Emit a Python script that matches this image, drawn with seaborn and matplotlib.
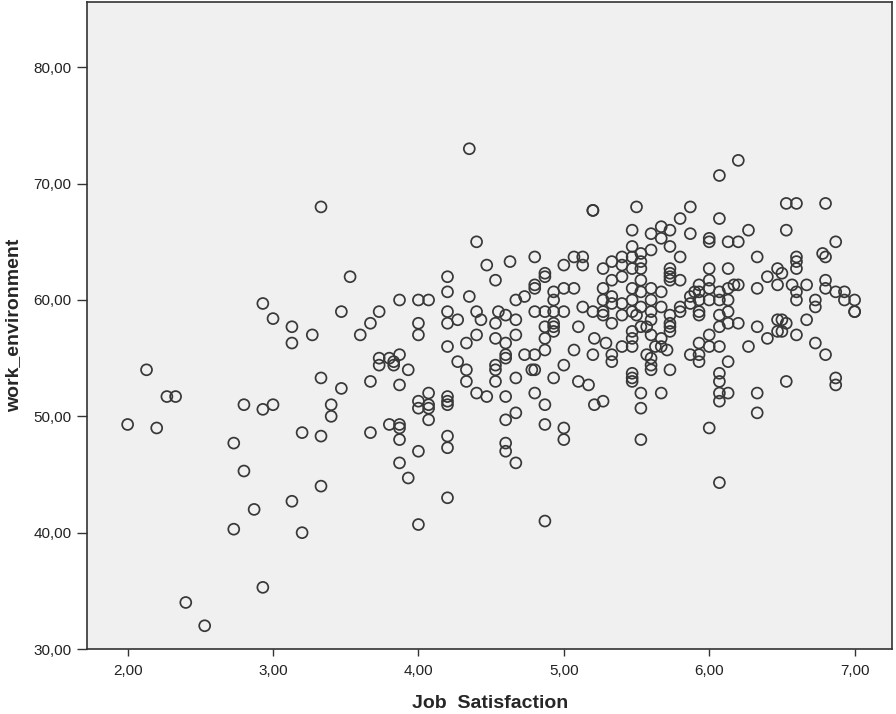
import matplotlib
matplotlib.use("Agg")
import matplotlib.pyplot as plt
import seaborn as sns
import pandas as pd
from matplotlib.ticker import FuncFormatter, FixedLocator

job_satisfaction = [
    2.00, 2.13, 2.20, 2.27, 2.33, 2.40, 2.53, 2.73, 2.73, 2.80, 2.80, 2.87, 2.93, 2.93, 2.93,
    3.00, 3.00, 3.13, 3.13, 3.13, 3.20, 3.20, 3.27, 3.33, 3.33, 3.33, 3.33, 3.40, 3.40, 3.47,
    3.47, 3.53, 3.60, 3.67, 3.67, 3.67, 3.73, 3.73, 3.73, 3.80, 3.80, 3.83, 3.83, 3.87, 3.87,
    3.87, 3.87, 3.87, 3.87, 3.87, 3.93, 3.93, 4.00, 4.00, 4.00, 4.00, 4.00, 4.00, 4.00, 4.07,
    4.07, 4.07, 4.07, 4.07, 4.20, 4.20, 4.20, 4.20, 4.20, 4.20, 4.20, 4.20, 4.20, 4.20, 4.20,
    4.27, 4.27, 4.33, 4.33, 4.33, 4.35, 4.35, 4.40, 4.40, 4.40, 4.40, 4.43, 4.47, 4.47, 4.53,
    4.53, 4.53, 4.53, 4.53, 4.53, 4.55, 4.60, 4.60, 4.60, 4.60, 4.60, 4.60, 4.60, 4.60, 4.63,
    4.67, 4.67, 4.67, 4.67, 4.67, 4.67, 4.73, 4.73, 4.80, 4.80, 4.80, 4.80, 4.80, 4.78, 4.80,
    4.80, 4.87, 4.87, 4.87, 4.87, 4.87, 4.87, 4.87, 4.87, 4.87, 4.93, 4.93, 4.93, 4.93, 4.93,
    4.93, 4.93, 5.00, 5.00, 5.00, 5.00, 5.00, 5.00, 5.07, 5.07, 5.07, 5.10, 5.10, 5.13, 5.13,
    5.13, 5.17, 5.20, 5.20, 5.20, 5.20, 5.21, 5.21, 5.27, 5.27, 5.27, 5.27, 5.27, 5.27, 5.29,
    5.33, 5.33, 5.33, 5.33, 5.33, 5.33, 5.40, 5.40, 5.40, 5.40, 5.40, 5.47, 5.47, 5.47, 5.47,
    5.47, 5.47, 5.47, 5.47, 5.47, 5.47, 5.47, 5.47, 5.50, 5.50, 5.53, 5.53, 5.53, 5.53, 5.53,
    5.53, 5.53, 5.53, 5.53, 5.57, 5.57, 5.60, 5.60, 5.60, 5.60, 5.60, 5.60, 5.60, 5.60, 5.60,
    5.63, 5.67, 5.67, 5.67, 5.67, 5.67, 5.67, 5.67, 5.71, 5.73, 5.73, 5.73, 5.73, 5.73, 5.73,
    5.73, 5.73, 5.73, 5.73, 5.73, 5.80, 5.80, 5.80, 5.80, 5.87, 5.87, 5.87, 5.87, 5.90, 5.93,
    5.93, 5.93, 5.93, 5.93, 5.93, 5.93, 6.00, 6.00, 6.00, 6.00, 6.00, 6.00, 6.00, 6.00, 6.07,
    6.07, 6.07, 6.07, 6.07, 6.07, 6.07, 6.07, 6.07, 6.07, 6.07, 6.13, 6.13, 6.13, 6.13, 6.13,
    6.13, 6.13, 6.13, 6.17, 6.20, 6.20, 6.20, 6.20, 6.27, 6.27, 6.33, 6.33, 6.33, 6.33, 6.33,
    6.40, 6.40, 6.47, 6.47, 6.47, 6.47, 6.50, 6.50, 6.50, 6.53, 6.53, 6.53, 6.53, 6.57, 6.60,
    6.60, 6.60, 6.60, 6.60, 6.60, 6.60, 6.67, 6.67, 6.73, 6.73, 6.73, 6.78, 6.80, 6.80, 6.80,
    6.80, 6.80, 6.87, 6.87, 6.87, 6.87, 6.93, 6.93, 7.00, 7.00, 7.00,
    5.47, 5.53, 5.93, 6.00, 5.87, 6.07, 5.80, 5.40, 5.60, 5.33,
]

work_environment = [
    49.3, 54.0, 49.0, 51.7, 51.7, 34.0, 32.0, 47.7, 40.3, 51.0, 45.3, 42.0, 59.7, 50.6, 35.3,
    58.4, 51.0, 57.7, 56.3, 42.7, 48.6, 40.0, 57.0, 68.0, 53.3, 48.3, 44.0, 51.0, 50.0, 59.0,
    52.4, 62.0, 57.0, 58.0, 53.0, 48.6, 59.0, 55.0, 54.4, 55.0, 49.3, 54.7, 54.4, 60.0, 55.3,
    52.7, 49.3, 49.0, 48.0, 46.0, 54.0, 44.7, 60.0, 58.0, 57.0, 51.3, 50.7, 47.0, 40.7, 60.0,
    52.0, 51.0, 50.7, 49.7, 62.0, 60.7, 59.0, 58.0, 56.0, 51.7, 51.3, 51.0, 48.3, 47.3, 43.0,
    58.3, 54.7, 56.3, 54.0, 53.0, 73.0, 60.3, 65.0, 59.0, 57.0, 52.0, 58.3, 63.0, 51.7, 61.7,
    58.0, 56.7, 54.4, 54.0, 53.0, 59.0, 58.7, 56.3, 55.3, 55.0, 51.7, 49.7, 47.7, 47.0, 63.3,
    60.0, 58.3, 57.0, 53.3, 50.3, 46.0, 60.3, 55.3, 63.7, 61.3, 61.0, 59.0, 55.3, 54.0, 54.0,
    52.0, 62.3, 62.0, 59.0, 57.7, 56.7, 55.7, 51.0, 49.3, 41.0, 60.7, 60.0, 59.0, 58.0, 57.7,
    57.3, 53.3, 63.0, 61.0, 59.0, 54.4, 49.0, 48.0, 63.7, 61.0, 55.7, 57.7, 53.0, 63.7, 63.0,
    59.4, 52.7, 67.7, 67.7, 59.0, 55.3, 56.7, 51.0, 62.7, 61.0, 60.0, 59.0, 58.7, 51.3, 56.3,
    63.3, 60.3, 59.7, 58.0, 55.3, 54.7, 63.7, 63.0, 62.0, 58.7, 56.0, 66.0, 64.6, 62.7, 61.0,
    60.0, 59.0, 57.3, 56.7, 56.0, 53.7, 53.3, 53.0, 68.0, 58.7, 64.0, 62.7, 61.7, 60.7, 59.4,
    57.7, 52.0, 50.7, 48.0, 57.7, 55.3, 65.7, 64.3, 61.0, 60.0, 59.0, 57.0, 55.0, 54.4, 54.0,
    56.0, 66.3, 65.3, 60.7, 59.4, 56.7, 56.0, 52.0, 55.7, 66.0, 64.6, 62.7, 62.3, 62.0, 61.7,
    58.7, 58.0, 57.7, 57.3, 54.0, 67.0, 63.7, 61.7, 59.0, 68.0, 65.7, 59.7, 55.3, 60.7, 60.7,
    60.0, 59.0, 58.7, 56.3, 55.3, 54.7, 65.3, 65.0, 62.7, 61.7, 60.0, 57.0, 56.0, 49.0, 70.7,
    67.0, 60.7, 58.7, 57.7, 56.0, 53.7, 53.0, 52.0, 51.3, 44.3, 65.0, 62.7, 61.0, 60.0, 59.0,
    58.0, 54.7, 52.0, 61.3, 72.0, 65.0, 61.3, 58.0, 66.0, 56.0, 63.7, 61.0, 57.7, 52.0, 50.3,
    62.0, 56.7, 62.7, 61.3, 58.3, 57.3, 62.3, 58.3, 57.3, 68.3, 66.0, 58.0, 53.0, 61.3, 68.3,
    63.7, 63.3, 62.7, 60.7, 60.0, 57.0, 61.3, 58.3, 60.0, 59.4, 56.3, 64.0, 68.3, 63.7, 61.7,
    61.0, 55.3, 65.0, 60.7, 53.3, 52.7, 60.7, 60.0, 60.0, 59.0, 59.0,
    63.7, 63.3, 61.3, 61.0, 60.3, 60.0, 59.4, 59.7, 58.3, 61.7,
]

y_ticks = [30, 40, 50, 60, 70, 80]
x_ticks = [2, 3, 4, 5, 6, 7]

df = pd.DataFrame({"Job Satisfaction": job_satisfaction,
                   "work_environment": work_environment})

sns.set_style("ticks")
plt.rcParams["font.family"] = ["Liberation Sans", "DejaVu Sans"]

fig = plt.figure(figsize=(8.96, 7.14), dpi=100)
ax = fig.add_axes([0.097, 0.091, 0.899, 0.906])
ax.set_facecolor("#f0f0f0")

sns.scatterplot(data=df, x="Job Satisfaction", y="work_environment", ax=ax,
                s=62, facecolor="none", edgecolor="#383838", linewidth=1.25,
                marker="o", legend=False)

ax.set_xlim(1.72, 7.26)
ax.set_ylim(30, 85.6)
ax.xaxis.set_major_locator(FixedLocator(x_ticks))
ax.yaxis.set_major_locator(FixedLocator(y_ticks))
fmt = FuncFormatter(lambda v, p: f"{v:.2f}".replace(".", ","))
ax.xaxis.set_major_formatter(fmt)
ax.yaxis.set_major_formatter(fmt)
ax.tick_params(axis="x", direction="out", length=5, width=1, color="#333333",
               labelsize=11, labelcolor="#222222", pad=6)
ax.tick_params(axis="y", direction="out", length=7, width=1, color="#333333",
               labelsize=11, labelcolor="#222222", pad=4)

for sp in ax.spines.values():
    sp.set_color("#333333")
    sp.set_linewidth(1.2)

ax.set_xlabel("Job  Satisfaction", fontsize=14, fontweight="bold", labelpad=12)
ax.set_ylabel("work_environment", fontsize=14, fontweight="bold", labelpad=8)

fig.savefig("out.png", dpi=100)
